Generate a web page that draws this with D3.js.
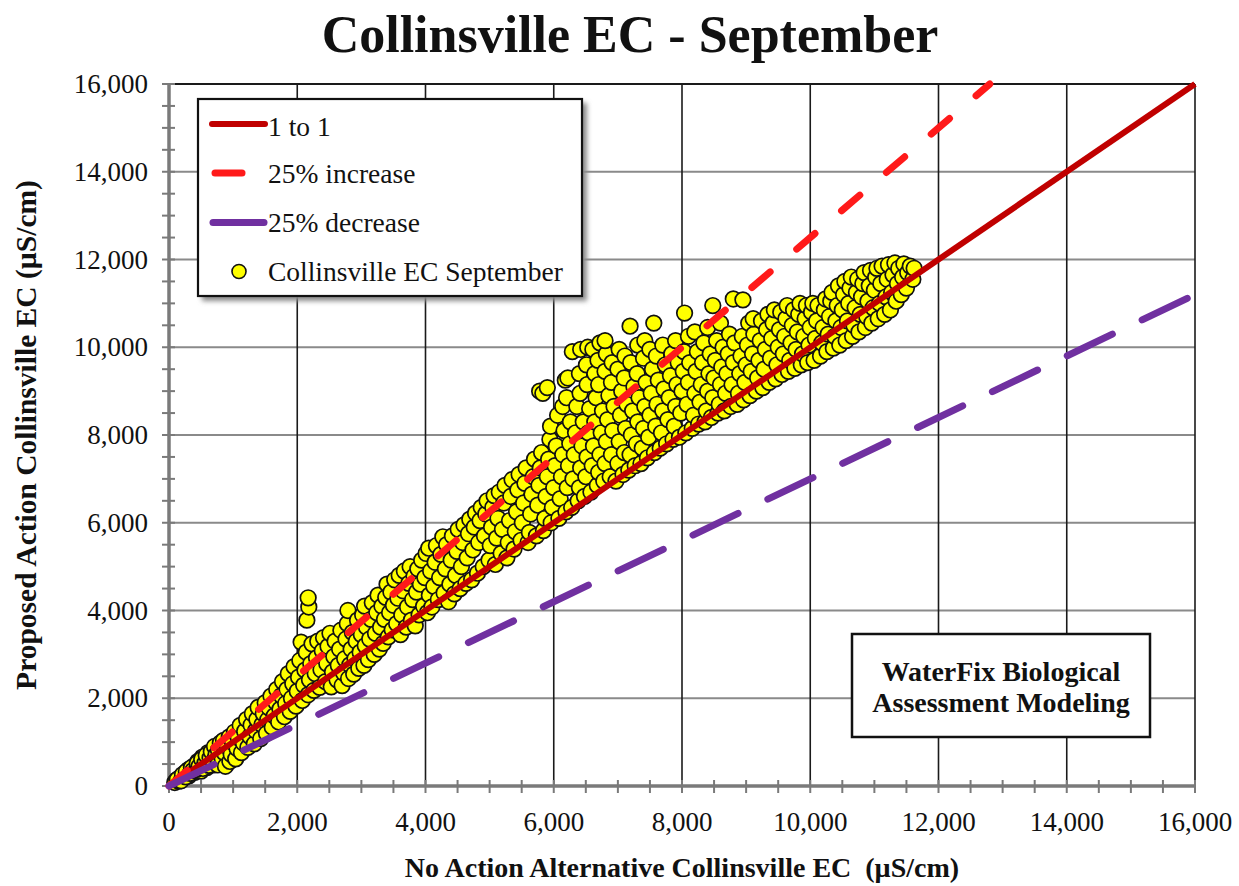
<!DOCTYPE html>
<html><head><meta charset="utf-8">
<script src="https://cdn.jsdelivr.net/npm/d3@7"></script>
<style>
body{margin:0;background:#fff}
svg{display:block}
text{font-family:"Liberation Serif","Times New Roman",serif;fill:#111;white-space:pre}
</style>
</head><body>
<svg id="chart" width="1239" height="886"></svg>
<script>
// ---------------- data ----------------
const chartTitle = "Collinsville EC - September";
const xAxisTitle = "No Action Alternative Collinsville EC  (µS/cm)";
const yAxisTitle = "Proposed Action Collinsville EC (µS/cm)";
const xTickValues = [0,2000,4000,6000,8000,10000,12000,14000,16000];
const yTickValues = [0,2000,4000,6000,8000,10000,12000,14000,16000];
const refNames = ["1 to 1","25% increase","25% decrease"];
const refStart = [[0,0],[0,0],[0,0]];
const refEnd = [[16000,16000],[12800,16000],[16000,11200]];
const scatterName = "Collinsville EC September";
const noteLines = ["WaterFix Biological","Assessment Modeling"];
// [No Action EC, Proposed Action EC]
const septemberPoints = [
[90,80],[120,140],[150,110],[170,190],[200,170],[230,230],[250,300],[280,250],[300,370],[310,230],[340,330],[360,300],[390,460],[400,310],[420,420],[450,560],[460,380],[490,500],[500,340],[520,660],[540,480],[570,620],[590,420],[610,760],[650,580],[670,700],[700,480],[740,820],[780,640],[820,900],
[130,150],[190,120],[210,260],[260,210],[270,330],[330,290],[350,420],[370,350],[430,380],[440,520],[470,450],[510,610],[530,400],[560,520],[580,700],[620,470],[640,640],[660,780],[690,560],[710,900],[730,700],[760,480],[770,820],[800,980],[830,620],[850,1040],[860,760],[880,450],[910,900],[940,1120],[950,560],[970,720],[990,1000],[1020,1230],[1040,620],[1060,860],[1080,1100],
[1110,1380],[1130,760],[1160,980],[1180,1250],[1210,1520],[1230,880],[1260,1130],[1280,1390],[1300,1650],[1330,960],[1350,1260],[1370,1520],[1390,1790],[1430,1080],[1450,1400],[1470,1650],[1500,1900],[1520,1200],[1540,1510],[1560,1780],[1590,2050],[1610,1340],[1640,1600],[1660,1920],[1680,2200],[1710,1460],[1730,1750],[1750,2060],[1770,2380],[1800,1580],[1820,1880],[1840,2200],[1860,2560],[1890,1700],[1910,2000],[1930,2330],[1950,2720],[1980,1820],[2000,2160],[2020,2480],[2040,2860],[2060,3280],
[2080,1950],[2100,2300],[2120,2640],[2140,3050],[2150,3780],[2180,4080],[2170,4290],[2170,2080],[2190,2420],[2210,2790],[2230,3240],[2260,2180],[2280,2560],[2300,2920],[2320,3300],[2350,2250],[2370,2650],[2390,3080],[2410,3380],[2440,2380],[2460,2790],[2480,3180],[2510,3480],[2530,2260],[2550,2600],[2570,2950],[2590,3300],[2620,2420],[2640,2750],[2660,3120],[2680,3550],[2700,2290],[2720,2580],[2740,2900],[2760,3350],[2780,3700],[2800,2450],[2820,2760],[2840,3120],[2860,3500],[2790,4000],[2880,2550],[2900,2900],[2920,3300],[2940,3780],[2960,2680],[2980,3050],[3000,3450],[3020,3900],[3050,4100],[3040,2750],[3060,3200],[3080,3620],[3110,2880],[3130,3350],[3150,3800],[3170,4180],[3200,3000],[3220,3480],[3240,3950],[3260,4350],[3280,3120],[3300,3620],[3320,4100],
[3340,3250],[3360,3800],[3380,4300],[3400,4600],[3420,3400],[3440,3950],[3460,4420],[3480,3560],[3500,4120],[3520,4700],[3550,3700],[3570,4280],[3590,4800],[3610,3450],[3630,3900],[3650,4450],[3670,4900],[3700,3620],[3720,4080],[3740,4620],[3760,5000],[3780,3780],[3800,4250],[3820,4780],[3840,3650],[3860,4420],[3880,4950],[3900,3900],[3920,4600],[3940,5150],[3970,4100],[3990,4750],[4010,5300],[4050,5420],
[4030,3950],[4060,4350],[4080,4900],[4100,4080],[4130,4550],[4150,5100],[4170,5480],[4200,4250],[4220,4750],[4240,5280],[4270,5680],[4290,4400],[4310,4950],[4330,5500],[4360,4200],[4380,4600],[4400,5150],[4420,5700],[4450,4380],[4470,4800],[4490,5350],[4510,5850],[4540,4500],[4560,5000],[4580,5550],[4600,5950],[4630,4620],[4650,5200],[4670,5750],[4690,6080],[4720,4700],[4740,5380],[4760,5900],[4780,6220],[4810,4850],[4830,5550],[4850,6050],[4870,6350],[4900,5000],[4920,5700],[4940,6200],[4960,6500],[4990,5150],[5010,5480],[5030,5900],[5050,6350],[5070,6620],
[5090,5050],[5110,5650],[5130,6100],[5150,6700],[5180,5300],[5200,5850],[5220,6450],[5240,6850],[5270,5200],[5290,5550],[5310,6050],[5330,6600],[5350,6980],[5380,5400],[5400,5800],[5420,6250],[5440,6750],[5460,7100],[5490,5600],[5510,6000],[5530,6450],[5550,6900],[5570,7250],[5600,5550],[5620,5780],[5640,6200],[5660,6650],[5680,7050],[5700,7450],[5730,5700],[5750,6400],[5770,6850],[5790,7250],[5810,7600],[5780,9000],[5830,8950],[5840,5820],[5860,6100],[5880,6600],[5900,7050],[5920,7450],[5940,7900],[5950,8200],[5900,9080],[5960,6000],[5980,6350],
[6000,6800],[6020,7300],[6040,7750],[6060,8450],[6080,6100],[6100,6550],[6120,7050],[6140,7550],[6160,8100],[6140,8650],[6180,9250],[6190,6250],[6210,6800],[6230,7300],[6250,7800],[6200,8850],[6220,9300],[6260,8300],[6280,6350],[6300,7000],[6320,7550],[6340,8050],[6360,8650],[6290,9900],[6380,6500],[6400,6800],[6420,7250],[6440,7750],[6460,8300],[6410,8950],[6400,9400],[6420,9950],[6480,6600],[6500,7050],[6520,7500],[6540,8050],[6560,8600],[6520,9150],[6510,9600],[6530,10000],[6580,6700],[6600,7300],[6620,7750],[6640,8300],[6660,8850],[6610,9950],[6640,9400],[6680,6850],[6700,7150],[6720,7550],[6740,8050],[6760,8550],[6700,9150],[6690,9700],[6720,10100],[6780,6950],[6800,7350],[6820,7850],[6840,8350],[6860,8900],[6800,9450],[6820,9850],[6800,10150],[6880,7050],[6900,7550],[6920,8100],[6940,8650],[6900,9200],[6910,9650],[6970,6950],[7000,7350],[7020,7850],[7040,8450],[7060,9000],[7000,9500],[7020,9950],
[7080,7100],[7100,7600],[7120,8150],[7140,8700],[7100,9300],[7110,9800],[7170,7200],[7190,7550],[7210,8000],[7230,8550],[7250,9100],[7190,10480],[7200,9650],[7270,7300],[7290,7800],[7310,8300],[7330,8850],[7300,9400],[7310,10050],[7360,7350],[7380,7700],[7400,8150],[7420,8650],[7440,9200],[7400,9750],[7420,10150],[7460,7480],[7480,7950],[7500,8450],[7520,8950],[7540,9500],[7500,9950],[7560,10550],[7570,7600],[7590,8200],[7610,8700],[7630,9250],[7600,9800],[7660,7700],[7680,8050],[7700,8550],[7720,9050],[7740,9600],[7700,10050],[7760,7800],[7780,8350],[7800,8850],[7820,9350],[7840,9850],[7860,7900],[7880,8200],[7900,8650],[7920,9150],[7940,9650],[7900,10150],[7960,7950],[7980,8500],[8000,9000],[8020,9450],[8040,10780],[8030,9900],
[8060,8050],[8080,8700],[8100,9200],[8120,9650],[8100,10250],[8160,8150],[8180,8450],[8200,8950],[8220,9450],[8240,9900],[8200,10350],[8260,8250],[8280,8750],[8300,9150],[8320,9650],[8340,10100],[8360,8300],[8380,8550],[8400,9000],[8420,9400],[8440,9850],[8400,10450],[8480,10950],[8460,8400],[8480,8850],[8500,9300],[8520,9700],[8540,10150],[8560,8500],[8580,8700],[8600,9150],[8620,9550],[8640,10000],[8600,10550],[8660,8550],[8680,8950],[8700,9400],[8720,9850],[8740,10300],[8760,8650],[8780,9150],[8800,9650],[8820,10100],[8800,11100],[8860,8700],[8880,8950],[8900,9400],[8920,9800],[8940,10250],[8950,11080],[8960,8800],[8980,9200],[9000,9600],[9020,10050],[9040,10550],
[9060,8900],[9080,9450],[9100,9850],[9120,10300],[9110,10650],[9160,9000],[9180,9300],[9200,9700],[9220,10150],[9240,10600],[9260,9080],[9280,9500],[9300,9950],[9320,10400],[9340,10750],[9360,9200],[9380,9750],[9400,10200],[9420,10550],[9440,10850],[9460,9280],[9480,9600],[9500,10000],[9520,10400],[9540,10800],[9560,9380],[9580,9850],[9600,10250],[9620,10650],[9640,10950],[9660,9450],[9680,9700],[9700,10100],[9720,10500],[9740,10850],[9760,9520],[9780,9950],[9800,10350],[9820,10750],[9840,11000],[9860,9600],[9880,9850],[9900,10250],[9920,10650],[9940,10950],[9960,9650],[9980,10050],
[10000,10450],[10020,10800],[10040,11000],[10060,9700],[10080,10200],[10100,10600],[10120,10950],[10160,9800],[10180,10100],[10200,10450],[10220,10850],[10240,11100],[10260,9900],[10280,10300],[10300,10700],[10320,11050],[10340,11250],[10360,9980],[10380,10250],[10400,10600],[10420,10950],[10440,11400],[10460,10050],[10480,10450],[10500,10850],[10520,11200],[10540,11500],[10560,10150],[10580,10600],[10600,11000],[10620,11350],[10640,11600],[10660,10250],[10680,10500],[10700,10900],[10720,11250],[10740,11550],[10760,10350],[10780,10750],[10800,11150],[10820,11450],[10840,11700],[10860,10450],[10880,10700],[10900,11050],[10920,11400],[10940,11750],[10960,10550],[10980,10900],[11000,11300],[11020,11600],[11040,11800],[11060,10650],[11080,11000],[11100,11450],[11120,11850],[11160,10750],[11180,11150],[11200,11550],[11220,11880],[11250,10850],[11270,11250],[11290,11650],[11320,11920],[11340,11050],[11360,11450],[11380,11800],[11420,11200],[11440,11600],[11460,11900],[11500,11350],[11520,11700],[11560,11850],[11600,11550],[11620,11800]
];

// ---------------- drawing ----------------
const svg = d3.select("#chart");
const x = d3.scaleLinear().domain([0,16000]).range([169,1195]);
const y = d3.scaleLinear().domain([0,16000]).range([786,84]);
const fmt = d3.format(",");

svg.append("rect").attr("x",x(0)).attr("y",y(16000))
  .attr("width",x(16000)-x(0)).attr("height",y(0)-y(16000)).attr("fill","#fff");

svg.append("g").selectAll("line").data(yTickValues.filter(d=>d>0 && d<16000)).join("line")
  .attr("x1",x(0)).attr("x2",x(16000)).attr("y1",d=>y(d)).attr("y2",d=>y(d))
  .attr("stroke","#8a8a8a").attr("stroke-width",2);
svg.append("g").selectAll("line").data(xTickValues.filter(d=>d>0)).join("line")
  .attr("x1",d=>x(d)).attr("x2",d=>x(d)).attr("y1",y(0)).attr("y2",y(16000))
  .attr("stroke","#1a1a1a").attr("stroke-width",1.6);
svg.append("line").attr("x1",x(0)).attr("x2",x(16000)).attr("y1",y(16000)).attr("y2",y(16000))
  .attr("stroke","#1a1a1a").attr("stroke-width",2);

const minor = d3.range(0,16001,500);
const axisCol = "#7a7a7a";
svg.append("g").selectAll("line").data(minor).join("line")
  .attr("x1",d=>x(d)).attr("x2",d=>x(d)).attr("y1",y(0)-6).attr("y2",y(0)+7)
  .attr("stroke",axisCol).attr("stroke-width",2);
svg.append("g").selectAll("line").data(minor).join("line")
  .attr("y1",d=>y(d)).attr("y2",d=>y(d)).attr("x1",x(0)-7).attr("x2",x(0)+6)
  .attr("stroke",axisCol).attr("stroke-width",2);
svg.append("line").attr("x1",x(0)).attr("x2",x(16000)).attr("y1",y(0)).attr("y2",y(0))
  .attr("stroke",axisCol).attr("stroke-width",3.5);
svg.append("line").attr("x1",x(0)).attr("x2",x(0)).attr("y1",y(0)).attr("y2",y(16000))
  .attr("stroke",axisCol).attr("stroke-width",3.5);

svg.append("g").selectAll("text").data(xTickValues).join("text")
  .attr("x",d=>x(d)).attr("y",831).attr("text-anchor","middle")
  .attr("font-size",27).text(d=>fmt(d));
svg.append("g").selectAll("text").data(yTickValues).join("text")
  .attr("x",148).attr("y",d=>y(d)+9).attr("text-anchor","end")
  .attr("font-size",27).text(d=>fmt(d));

svg.append("g").selectAll("circle").data(septemberPoints).join("circle")
  .attr("cx",d=>x(d[0])).attr("cy",d=>y(d[1])).attr("r",7.8)
  .attr("fill","#FFFF00").attr("stroke","#111").attr("stroke-width",1.7);

const refStyles = [
  {stroke:"#C00000", width:6, dash:null, cap:"butt"},
  {stroke:"#FF1A1A", width:7, dash:"24,35", cap:"round"},
  {stroke:"#7030A0", width:7, dash:"50,33", cap:"round"}
];
const lineGen = d3.line().x(d=>x(d[0])).y(d=>y(d[1]));
refNames.forEach((n,i)=>{
  const p = svg.append("path").attr("d",lineGen([refStart[i],refEnd[i]]))
    .attr("fill","none").attr("stroke",refStyles[i].stroke)
    .attr("stroke-width",refStyles[i].width).attr("stroke-linecap",refStyles[i].cap);
  if(refStyles[i].dash) p.attr("stroke-dasharray",refStyles[i].dash);
});

const defs = svg.append("defs");
const f = defs.append("filter").attr("id","blur").attr("x","-10%").attr("y","-10%").attr("width","130%").attr("height","130%");
f.append("feGaussianBlur").attr("stdDeviation",2.5);
svg.append("rect").attr("x",202).attr("y",103).attr("width",385).attr("height",198)
  .attr("fill","#8a8a8a").attr("filter","url(#blur)");
svg.append("rect").attr("x",198).attr("y",99).attr("width",384).attr("height",197)
  .attr("fill","#fff").attr("stroke","#111").attr("stroke-width",2.2);
const lg = svg.append("g");
lg.append("line").attr("x1",212).attr("x2",265).attr("y1",124).attr("y2",124)
  .attr("stroke","#C00000").attr("stroke-width",6).attr("stroke-linecap","round");
lg.append("line").attr("x1",215).attr("x2",242).attr("y1",173).attr("y2",173)
  .attr("stroke","#FF1A1A").attr("stroke-width",7).attr("stroke-linecap","round");
lg.append("line").attr("x1",213).attr("x2",264).attr("y1",222.5).attr("y2",222.5)
  .attr("stroke","#7030A0").attr("stroke-width",7).attr("stroke-linecap","round");
lg.append("circle").attr("cx",239).attr("cy",271.5).attr("r",7)
  .attr("fill","#FFFF00").attr("stroke","#111").attr("stroke-width",1.6);
const legendLabels = refNames.concat([scatterName]);
const legendBase = [136,183,231.5,280.5];
lg.selectAll("text.l").data(legendLabels).join("text").attr("class","l")
  .attr("x",268).attr("y",(d,i)=>legendBase[i])
  .attr("font-size",27.5).text(d=>d);

svg.append("rect").attr("x",852).attr("y",634).attr("width",298).attr("height",103)
  .attr("fill","#fff").attr("stroke","#111").attr("stroke-width",2.5);
svg.append("g").selectAll("text").data(noteLines).join("text")
  .attr("x",1001).attr("y",(d,i)=>681+i*31).attr("text-anchor","middle")
  .attr("font-size",28).attr("font-weight","bold").text(d=>d);

svg.append("text").attr("x",630).attr("y",52).attr("text-anchor","middle")
  .attr("font-size",52).attr("font-weight","bold").text(chartTitle);
svg.append("text").attr("x",682).attr("y",877).attr("text-anchor","middle")
  .attr("font-size",28).attr("font-weight","bold").text(xAxisTitle);
svg.append("text").attr("transform","translate(36,435) rotate(-90)").attr("text-anchor","middle")
  .attr("font-size",29.5).attr("font-weight","bold").text(yAxisTitle);
</script>
</body></html>
